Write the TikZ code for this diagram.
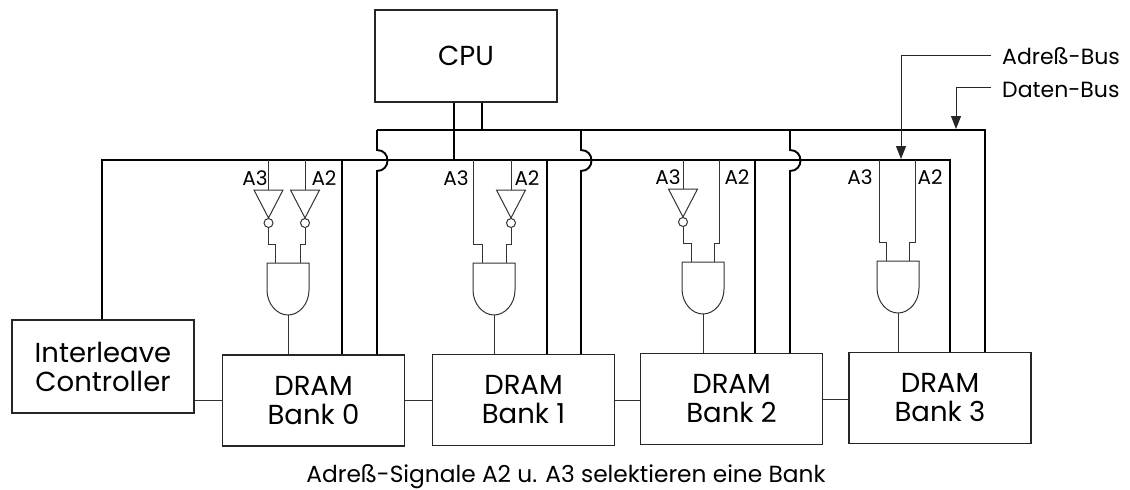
\documentclass[tikz,border=0pt]{standalone}
\usepackage{fontspec}
\setmainfont{Poppins}
\usetikzlibrary{arrows.meta}
\tikzset{
  box/.style={draw=black!85,line width=1.1pt,inner sep=0pt,align=center,font=\fontsize{27.5}{29}\selectfont},
  bank/.style={box,minimum width=182pt,minimum height=91pt},
  bus/.style={line width=1.9pt},
  wire/.style={draw=black!80,line width=1pt},
  sig/.style={inner sep=0pt,font=\fontsize{20}{22}\selectfont},
  tag/.style={inner sep=0pt,anchor=west,font=\fontsize{22}{25}\selectfont},
  point/.style={draw=black!85,-{Triangle[length=13pt,width=10pt]},line width=1pt},
  bubble/.style={wire,circle,inner sep=0pt,minimum size=9pt},
  pics/andgate/.style={code={
    \draw[wire] (-21,0) -- (21,0) -- (21,27) .. controls (21,41) and (11,52) .. (0,52)
       .. controls (-11,52) and (-21,41) .. (-21,27) -- cycle;
    \coordinate (-out) at (0,52);
  }},
  pics/inverter/.style={code={
    \draw[wire] (-14.5,0) -- (14.5,0) -- (0,28) -- cycle;
    \coordinate (-in) at (0,0);
    \node[bubble] (-bub) at (0,33) {};
  }},
}
\begin{document}
\begin{tikzpicture}[x=1pt,y=-1pt]
    \useasboundingbox (0,0) rectangle (1130,490);
    \node[box,minimum width=182pt,minimum height=92pt] (cpu) at (466,56) {CPU};
    \node[box,minimum width=182pt,minimum height=93pt] (ctrl) at (103,366.5) {Interleave\\Controller};
    \node[bank] (bank0) at (313.5,400.5) {DRAM\\Bank 0};
    \node[bank] (bank1) at (523.5,400) {DRAM\\Bank 1};
    \node[bank] (bank2) at (731.5,399) {DRAM\\Bank 2};
    \node[bank] (bank3) at (940,398) {DRAM\\Bank 3};

    \coordinate (AdrLeft)  at (102,160);
    \coordinate (AdrRight) at (950,160);
    \coordinate (DatLeft)  at (377,130);
    \coordinate (DatRight) at (985,130);

    % the two buses
    \draw[bus] (ctrl.north -| AdrLeft) -- (AdrLeft) -- (AdrRight) -- (AdrRight |- bank3.north);
    \draw[bus] (DatLeft) -- (DatRight) -- (DatRight |- bank3.north);
    \draw[bus] (454,0 |- cpu.south) -- (454,160);
    \draw[bus] (482,0 |- cpu.south) -- (482,130);

    \foreach \n/\a/\d in {0/342/377,1/547/581,2/755/790}{% address and data drop per bank
      \draw[bus] (\a,160) -- (\a,0 |- bank\n.north);
      \draw[bus] (\d,130) -- (\d,150) .. controls (\d+14,150) and (\d+14,171) .. (\d,171)
         -- (\d,0 |- bank\n.north);
    }

    % links between the boxes
    \draw[wire] (bank0.west) -- (bank0.west -| ctrl.east);
    \draw[wire] (bank0.east) -- (bank0.east -| bank1.west);
    \draw[wire] (bank1.east) -- (bank1.east -| bank2.west);
    \draw[wire] (bank2.east) -- (bank2.east -| bank3.west);

    \foreach \n/\x/\y in {0/288/263,1/494/263,2/703/262,3/898/261}{%
      \pic (gate\n) at (\x,\y) {andgate};
      \draw[wire] (gate\n-out) -- (gate\n-out |- bank\n.north);
    }

    \foreach \n/\x/\t/\j/\i/\g in {0/268.5/190/244/275/263,
                                   1/305/190/244/300/263,
                                   2/511/190/244/506/263,
                                   3/683/189/243/691/262}{% signals with inverter
      \pic (inv\n) at (\x,\t) {inverter};
      \draw[wire] (\x,160) -- (inv\n-in);
      \draw[wire] (inv\n-bub) -- (\x,\j) -- (\i,\j) -- (\i,\g);
    }
    \foreach \x/\j/\i/\g in {473/244/482/263,719/243/714/262,
                             879/242/886/261,915/242/909/261}{% signals without inverter
      \draw[wire] (\x,160) -- (\x,\j) -- (\i,\j) -- (\i,\g);
    }

    \foreach \n/\x/\y/\s in {a/255/178/A3,b/324/178/A2,c/456/178/A3,d/527/178/A2,
                             e/668/177/A3,f/737/177/A2,g/860/177/A3,h/930/177/A2}{%
      \node[sig] (sig\n) at (\x,\y) {\s};
    }

    % bus names
    \node[tag] (adrtag) at (1002,56) {Adreß-Bus};
    \node[tag] (dattag) at (1002,90) {Daten-Bus};
    \draw[point] (adrtag.west) ++(-11,-1) -- (901,55) -- (901,159);
    \draw[point] (dattag.west) ++(-11,-3) -- (956,87) -- (956,129);

    \node[inner sep=0pt,font=\fontsize{23.3}{26}\selectfont] (note) at (566,477)
       {Adreß-Signale A2 u. A3 selektieren eine Bank};
  \end{tikzpicture}
\end{document}
